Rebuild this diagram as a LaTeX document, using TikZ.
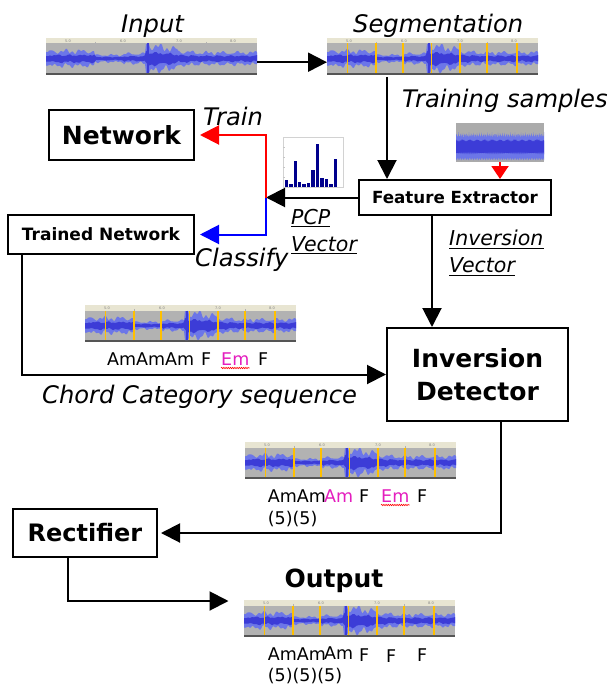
\documentclass[tikz,border=0pt]{standalone}
\usepackage{fontspec}
\setmainfont{DejaVu Sans}
\usetikzlibrary{arrows.meta,decorations.pathmorphing,calc}
\definecolor{wgray}{RGB}{178,178,178}
\definecolor{twgray}{RGB}{171,171,171}
\definecolor{rulerc}{RGB}{232,229,210}
\definecolor{wdark}{RGB}{85,85,85}
\definecolor{wblue1}{RGB}{108,118,232}
\definecolor{wblue2}{RGB}{60,60,215}
\definecolor{wyel}{RGB}{255,192,0}
\definecolor{magc}{RGB}{228,30,190}
\definecolor{navyc}{RGB}{0,0,140}

\newcommand{\wavebody}{%
  \fill[rulerc] (0,0) rectangle (211,5.5);
  \fill[wgray] (0,5.5) rectangle (211,35);
  \fill[wdark] (0,35) rectangle (211,37);
  \foreach \tx/\tl in {22/5.0,77/6.0,133/7.0,187/8.0}{\node[ticklab] at (\tx,2.8) {\tl};}
  \foreach \tx in {49.5,160}{\draw[gray!60,line width=0.4pt] (\tx,3.8) -- (\tx,5.5);}
  \fill[wblue1] plot[domain=0:211,samples=212] (\x,{max(6,20.5-amp(\x)*nzA(\x))})
     -- plot[domain=211:0,samples=212] (\x,{min(35,20.5+amp(\x)*nzB(\x))}) -- cycle;
  \fill[wblue2] plot[domain=0:211,samples=106] (\x,{max(6,20.5-0.45*amp(\x)*nzB(\x+3))})
     -- plot[domain=211:0,samples=106] (\x,{min(35,20.5+0.5*amp(\x)*nzA(\x+5))}) -- cycle;
  \draw[wblue2,line width=1.2pt] (102,5.5) -- (102,35);
}
\newcommand{\yellowlines}{%
  \foreach \yx in {20.5,49,76,104.5,133,160,189.6}{\draw[wyel,line width=1.8pt] (\yx,5.5) -- (\yx,35);}
}

\tikzset{
  conn/.style={line width=2pt,-{Triangle[length=19pt,width=19pt]}},
  boxn/.style={draw,line width=2pt,inner sep=0pt,fill=white},
  lab/.style={inner sep=0pt,anchor=base west,font=\itshape\fontsize{24.2}{29}\selectfont},
  ulab/.style={inner sep=0pt,anchor=base west,font=\itshape\fontsize{20.5}{24}\selectfont},
  chord/.style={inner sep=0pt,anchor=base west,font=\fontsize{17.5}{20}\selectfont},
  wbox/.style={inner sep=0pt,minimum width=211pt,minimum height=37pt,anchor=north west},
  ticklab/.style={font=\fontsize{3.5}{4}\selectfont,text=gray,inner sep=0pt},
  uline/.style={line width=1.1pt},
  squig/.style={red,line width=0.6pt,decorate,decoration={snake,amplitude=0.7pt,segment length=2.2pt}},
}

\begin{document}
\begin{tikzpicture}[x=1pt,y=-1pt,
  declare function={
    amp(\xx)= \xx<3 ? 5.5 : (\xx<49 ? 7 : (\xx<78 ? 3.3 : (\xx<100 ? 4.6 : (\xx<103.5 ? 15 : (\xx<132 ? 12.5-(\xx-103.5)*0.13 : (\xx<160 ? 7-(\xx-132)*0.07 : 5.6))))));
    nzA(\xx)=1+0.22*sin(23*\xx)+0.14*sin(57*\xx+20)+0.09*sin(293*mod(\xx,50)+50);
    nzB(\xx)=1+0.2*sin(29*\xx+40)+0.14*sin(71*\xx+10)+0.09*sin(317*mod(\xx,45)+70);
    tnz(\xx)=0.5+0.25*sin(173*mod(\xx,50))+0.25*sin(311*mod(\xx,45)+30);
  }]
\useasboundingbox[fill=white] (0,0) rectangle (610,690);

% ---------- waveforms ----------
\begin{scope}[shift={(46,38)}]\wavebody\end{scope}
\begin{scope}[shift={(327,38)}]\wavebody\yellowlines\end{scope}
\begin{scope}[shift={(85,305)}]\wavebody\yellowlines\end{scope}
\begin{scope}[shift={(245,442)}]\wavebody\yellowlines\end{scope}
\begin{scope}[shift={(244,600)}]\wavebody\yellowlines\end{scope}

\node[wbox] (inw) at (46,38) {};
\node[wbox] (segw) at (327,38) {};
\node[wbox] (chw) at (85,305) {};
\node[wbox] (invw) at (245,442) {};
\node[wbox] (outw) at (244,600) {};

% training sample waveform
\begin{scope}[shift={(456,123)}]
  \fill[twgray] (0,0) rectangle (88,39);
  \fill[wblue1] plot[domain=0:88,samples=177] (\x,{max(1,24-8-7*tnz(\x))})
     -- plot[domain=88:0,samples=177] (\x,{min(38.5,24+12+1.5*sin(211*mod(\x,50)))}) -- cycle;
  \fill[wblue2] plot[domain=0:88,samples=89] (\x,{24-5-3*tnz(\x+7)})
     -- plot[domain=88:0,samples=89] (\x,{24+6+1.5*sin(173*mod(\x,50))}) -- cycle;
\end{scope}
\node[inner sep=0pt,minimum width=88pt,minimum height=39pt] (tw) at (500,142.5) {};

% histogram (PCP)
\node[anchor=north west,inner sep=0pt,minimum width=60pt,minimum height=50pt,draw=gray!35,line width=0.5pt,fill=white] (hist) at (283,137) {};
\foreach \hy in {147,157,167,177}{\draw[gray!45,line width=0.3pt] (283,\hy) -- (285,\hy);}
\foreach \hx/\ht in {286.3/180.3,290.8/183.7,295.2/161.3,299.7/182,304.1/183.7,308.6/182.7,313/170.3,317.5/143.7,321.9/178,326.4/179.3,330.8/183.7,335.3/158.7}{
  \fill[navyc] (\hx-1.7,186.5) rectangle (\hx+1.7,\ht);}

% ---------- boxes ----------
\node[boxn,minimum width=145pt,minimum height=50pt,font=\bfseries\fontsize{25}{30}\selectfont] (network) at (121.5,135) {Network};
\node[boxn,minimum width=186pt,minimum height=39pt,font=\bfseries\fontsize{17}{20}\selectfont] (tn) at (101,234.5) {Trained Network};
\node[boxn,minimum width=192pt,minimum height=35pt,font=\bfseries\fontsize{16.7}{20}\selectfont] (fe) at (455,197.5) {Feature Extractor};
\node[boxn,minimum width=181pt,minimum height=93pt,align=center,font=\bfseries\fontsize{25}{33}\selectfont] (id) at (477.5,374.5) {Inversion\\Detector};
\node[boxn,minimum width=144pt,minimum height=48pt,font=\bfseries\fontsize{24}{28}\selectfont] (rect) at (85,533) {Rectifier};

% ---------- labels ----------
\node[lab] (lin) at (121,33) {Input};
\node[lab] (lseg) at (353,33) {Segmentation};
\node[lab] (ltr) at (402,108) {Training samples};
\node[lab] (ltrain) at (203,125) {Train};
\node[lab] (lcls) at (195,266.5) {Classify};
\node[ulab] (lpcp) at (291,224) {PCP};
\node[ulab] (lpv) at (291,251) {Vector};
\node[ulab] (linv) at (449,245.7) {Inversion};
\node[ulab] (liv) at (449,272.7) {Vector};
\node[lab] (lccs) at (42,403) {Chord Category sequence};
\node[inner sep=0pt,anchor=base,font=\bfseries\fontsize{25}{30}\selectfont] (lout) at (334,587) {Output};
\foreach \n in {lpcp,lpv,linv,liv}{\draw[uline] ([yshift=-2.8pt]\n.base west) -- ([yshift=-2.8pt]\n.base east);}

% chord labels
\node[chord] (c1) at (107,365) {AmAmAm};
\node[chord] (c2) at (201,365) {F};
\node[chord,text=magc] (c3) at (221,365) {Em};
\node[chord] (c4) at (258,365) {F};
\draw[squig] ([yshift=-3pt]c3.base west) -- ([yshift=-3pt]c3.base east);

\node[chord] (d1) at (267.6,502) {AmAm};
\node[chord,text=magc] (d2) at (324,502) {Am};
\node[chord] (d3) at (359,502) {F};
\node[chord,text=magc] (d4) at (381,502) {Em};
\node[chord] (d5) at (417,502) {F};
\node[chord] (d6) at (267.6,524) {(5)(5)};
\draw[squig] ([yshift=-3pt]d4.base west) -- ([yshift=-3pt]d4.base east);

\node[chord] (e1) at (267.6,660) {AmAm};
\node[chord] (e2) at (324,659) {Am};
\node[chord] (e3) at (359,661) {F};
\node[chord] (e4) at (386,662) {F};
\node[chord] (e5) at (417,661) {F};
\node[chord] (e6) at (267.6,681) {(5)(5)(5)};

% ---------- connectors ----------
\coordinate (segdn) at (387,77);
\coordinate (split) at (266,197.5);
\coordinate (tndn) at (22,254);
\coordinate (fedn) at (432,215);
\coordinate (iddn) at (501,421);
\coordinate (rectdn) at (68,557);

\draw[conn] ([yshift=-5.5pt]inw.east) -- ([yshift=-5.5pt]segw.west);
\draw[conn] (segdn) -- (segdn |- fe.north);
\draw[line width=2pt,red,-{Triangle[length=13pt,width=17pt]}] (tw.south) -- (tw.south |- fe.north);
\draw[conn] (fe.west) -- (split);
\draw[conn,red,shorten >=5pt] (split) |- (network.east);
\draw[conn,blue,shorten >=5pt] (split) |- (tn.east);
\draw[conn] (tndn) |- (id.west);
\draw[conn] (fedn) -- (fedn |- id.north);
\draw[conn,shorten >=3pt] (iddn) |- (rect.east);
\draw[conn] (rectdn) |- ([xshift=-15.5pt,yshift=-1pt]outw.north west);
\end{tikzpicture}
\end{document}
